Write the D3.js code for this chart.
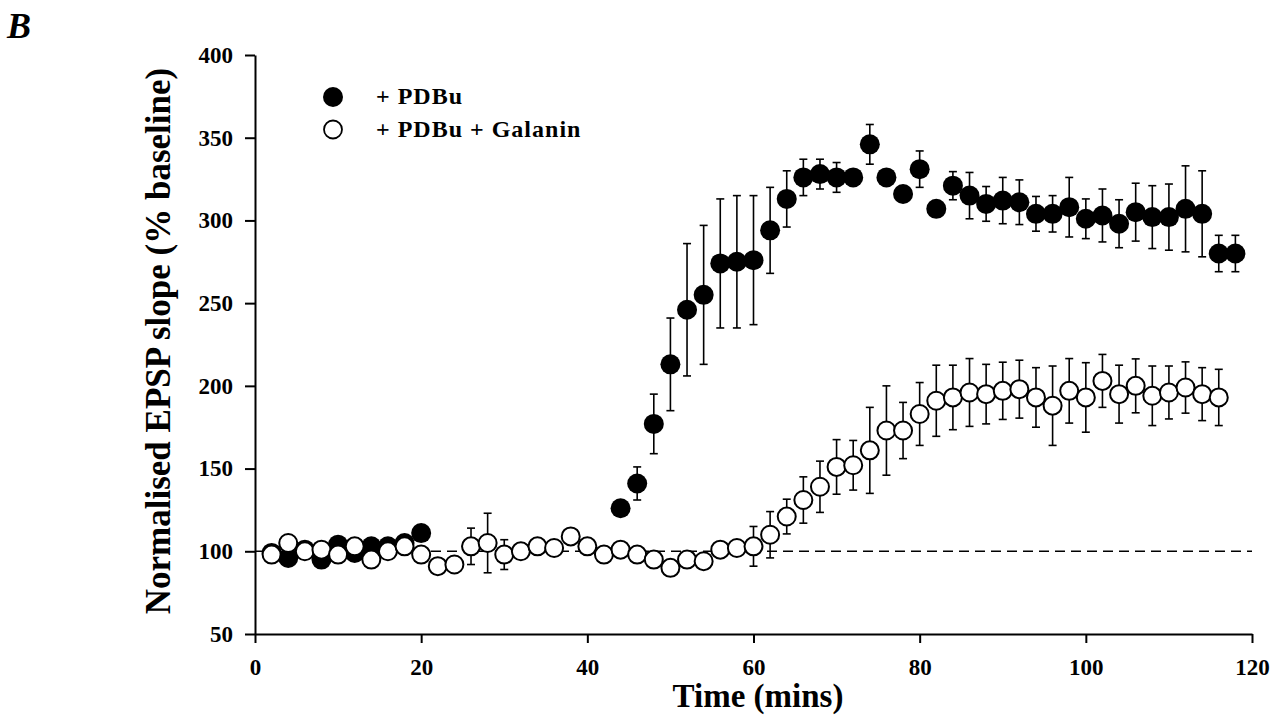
<!DOCTYPE html>
<html>
<head>
<meta charset="utf-8">
<script src="https://cdn.jsdelivr.net/npm/d3@7"></script>
<style>
  html, body { margin: 0; padding: 0; background: #fff; }
  svg text { font-family: "Liberation Serif", "Times New Roman", serif; font-weight: bold; fill: #000; }
</style>
</head>
<body>
<svg id="chart" width="1283" height="717"></svg>
<script>
// ── Data ─────────────────────────────────────────────────────────
const pdbuTime = [2, 4, 6, 8, 10, 12, 14, 16, 18, 20,
  44, 46, 48, 50, 52, 54, 56, 58, 60, 62, 64, 66, 68, 70, 72, 74, 76, 78, 80,
  82, 84, 86, 88, 90, 92, 94, 96, 98, 100, 102, 104, 106, 108, 110, 112, 114, 116, 118];
const pdbuMean = [99, 96, 101, 95, 104, 99, 103, 103, 105, 111,
  126, 141, 177, 213, 246, 255, 274, 275, 276, 294, 313, 326, 328, 326, 326, 346, 326, 316, 331,
  307, 321, 315, 310, 312, 311, 304, 304, 308, 301, 303, 298, 305, 302, 302, 307, 304, 280, 280];
const pdbuSem = [3, 3, 3, 3, 3, 3, 3, 3, 3, 3,
  4, 10, 18, 28, 40, 42, 39, 40, 39, 26, 17, 11, 9, 9, 4, 12, 4, 4, 11,
  4, 8.5, 14, 10.5, 14, 13.5, 10.5, 11, 18, 12, 16, 14.5, 17.5, 19, 20, 26, 26, 11, 11];

const galTime = [2, 4, 6, 8, 10, 12, 14, 16, 18, 20, 22, 24, 26, 28, 30, 32, 34, 36, 38, 40,
  42, 44, 46, 48, 50, 52, 54, 56, 58, 60, 62, 64, 66, 68, 70, 72, 74, 76, 78, 80,
  82, 84, 86, 88, 90, 92, 94, 96, 98, 100, 102, 104, 106, 108, 110, 112, 114, 116];
const galMean = [98, 105, 100, 101, 98, 103, 95, 100, 103, 98, 91, 92, 103, 105, 98, 100, 103, 102, 109, 103,
  98, 101, 98, 95, 90, 95, 94, 101, 102, 103, 110, 121, 131, 139, 151, 152, 161, 173, 173, 183,
  191, 193, 196, 195, 197, 198, 193, 188, 197, 193, 203, 195, 200, 194, 196, 199, 195, 193];
const galSem = [3, 3, 3, 3, 3, 3, 3, 3, 3, 3, 3, 3, 11, 18, 9, 3, 3, 3, 3, 3,
  3, 3, 3, 4, 4, 4, 4, 4, 4, 12, 14, 10.5, 14, 15.5, 16.5, 15, 26, 27, 17, 19,
  21.5, 19.5, 20.5, 18, 17.3, 17.5, 18, 24, 19.5, 21, 16, 17.5, 16.3, 18, 16, 15.5, 16, 17];

const xTicks = [0, 20, 40, 60, 80, 100, 120];
const yTicks = [50, 100, 150, 200, 250, 300, 350, 400];
const baseline = 100;

// ── Layout ───────────────────────────────────────────────────────
const plot = { left: 255, right: 1252, top: 55, bottom: 634 };
const R = 10;

const svg = d3.select("#chart");
const x = d3.scaleLinear().domain([0, 120]).range([plot.left, plot.right]);
const y = d3.scaleLinear().domain([50, 400]).range([plot.bottom, plot.top]);

// ── Axes ─────────────────────────────────────────────────────────
const xAxis = svg.append("g")
  .attr("transform", `translate(0,${plot.bottom})`)
  .call(d3.axisBottom(x).tickValues(xTicks).tickSize(9).tickPadding(16).tickSizeOuter(0));
const yAxis = svg.append("g")
  .attr("transform", `translate(${plot.left},0)`)
  .call(d3.axisLeft(y).tickValues(yTicks).tickSize(10).tickPadding(12).tickSizeOuter(0));

[xAxis, yAxis].forEach(g => {
  g.select(".domain").attr("stroke", "#000").attr("stroke-width", 2);
  g.selectAll(".tick line").attr("stroke", "#000").attr("stroke-width", 2);
  g.selectAll(".tick text")
    .attr("fill", "#000")
    .style("font-size", "23px")
    .style("font-family", '"Liberation Serif", serif')
    .style("font-weight", "bold");
});

// ── Baseline ─────────────────────────────────────────────────────
svg.append("line")
  .attr("x1", x(0)).attr("x2", x(120))
  .attr("y1", y(baseline)).attr("y2", y(baseline))
  .attr("stroke", "#000")
  .attr("stroke-width", 1.6)
  .attr("stroke-dasharray", "10,6");

// ── Series ───────────────────────────────────────────────────────
function drawSeries(times, means, sems, filled) {
  const pts = times.map((t, i) => ({ t, m: means[i], s: sems[i] }));
  const g = svg.append("g");
  const eb = g.selectAll(".err").data(pts).join("g").attr("class", "err")
    .attr("stroke", "#000").attr("stroke-width", 1.6);
  eb.append("line")
    .attr("x1", d => x(d.t)).attr("x2", d => x(d.t))
    .attr("y1", d => y(d.m - d.s)).attr("y2", d => y(d.m + d.s));
  eb.append("line")
    .attr("x1", d => x(d.t) - 4).attr("x2", d => x(d.t) + 4)
    .attr("y1", d => y(d.m + d.s)).attr("y2", d => y(d.m + d.s));
  eb.append("line")
    .attr("x1", d => x(d.t) - 4).attr("x2", d => x(d.t) + 4)
    .attr("y1", d => y(d.m - d.s)).attr("y2", d => y(d.m - d.s));
  g.selectAll("circle").data(pts).join("circle")
    .attr("cx", d => x(d.t)).attr("cy", d => y(d.m))
    .attr("r", filled ? R : R - 1)
    .attr("fill", filled ? "#000" : "#fff")
    .attr("stroke", "#000")
    .attr("stroke-width", filled ? 0 : 2);
}

drawSeries(pdbuTime, pdbuMean, pdbuSem, true);
drawSeries(galTime, galMean, galSem, false);

// ── Legend ───────────────────────────────────────────────────────
const legend = [
  { label: "+ PDBu", filled: true },
  { label: "+ PDBu + Galanin", filled: false }
];
const lg = svg.append("g").selectAll("g").data(legend).join("g")
  .attr("transform", (d, i) => `translate(333,${97 + i * 32.5})`);
lg.append("circle")
  .attr("r", d => d.filled ? R : R - 1)
  .attr("fill", d => d.filled ? "#000" : "#fff")
  .attr("stroke", "#000")
  .attr("stroke-width", d => d.filled ? 0 : 1.8);
lg.append("text")
  .attr("x", 43).attr("y", 7)
  .style("font-size", "24px")
  .style("letter-spacing", "1px")
  .text(d => d.label);

// ── Labels ───────────────────────────────────────────────────────
svg.append("text")
  .attr("x", 758).attr("y", 707)
  .attr("text-anchor", "middle")
  .style("font-size", "33px")
  .text("Time (mins)");

svg.append("text")
  .attr("transform", `translate(170,341) rotate(-90)`)
  .attr("text-anchor", "middle")
  .style("font-size", "35px")
  .text("Normalised EPSP slope (% baseline)");

svg.append("text")
  .attr("x", 7).attr("y", 38)
  .style("font-size", "36px")
  .style("font-style", "italic")
  .text("B");
</script>
</body>
</html>
